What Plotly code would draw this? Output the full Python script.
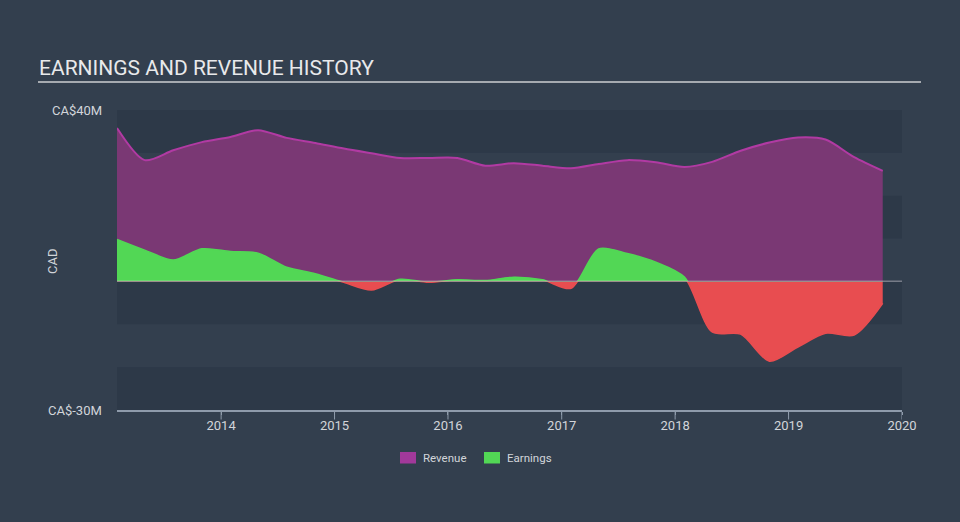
import plotly.graph_objects as go

dates = ["2013-01-31", "2013-04-30", "2013-07-31", "2013-10-31",
         "2014-01-31", "2014-04-30", "2014-07-31", "2014-10-31",
         "2015-01-31", "2015-04-30", "2015-07-31", "2015-10-31",
         "2016-01-31", "2016-04-30", "2016-07-31", "2016-10-31",
         "2017-01-31", "2017-04-30", "2017-07-31", "2017-10-31",
         "2018-01-31", "2018-04-30", "2018-07-31", "2018-10-31",
         "2019-01-31", "2019-04-30", "2019-07-31", "2019-10-31"]
revenue = [35.8, 28.3, 30.6, 32.5, 33.7, 35.3, 33.5, 32.3,
           31.0, 29.9, 28.8, 28.8, 28.8, 27.0, 27.6, 27.0,
           26.4, 27.4, 28.3, 27.8, 26.7, 27.9, 30.5, 32.4,
           33.6, 33.1, 29.0, 25.8]
earnings = [9.8, 7.3, 5.0, 7.6, 7.0, 6.6, 3.3, 1.8,
            -0.2, -2.0, 0.5, -0.2, 0.4, 0.2, 1.0, 0.4,
            -1.6, 7.6, 6.5, 4.5, 1.0, -11.8, -12.3, -18.6,
            -15.3, -12.1, -12.5, -5.1]
year_ticks = ["2014", "2015", "2016", "2017", "2018", "2019", "2020"]
legend_names = ["Revenue", "Earnings"]

BG = "#333f4e"
BAND = "#2d3948"
TXT = "#d2d5da"
AXIS = "#8f9bab"
PURPLE_FILL = "#7a3874"
PURPLE_LINE = "#b13aa3"
PURPLE_KEY = "#a2399a"
GREEN = "#52d755"
RED = "#e84d50"

L, R, T, B = 117, 58, 110, 112
PW = 960 - L - R
PH = 522 - T - B
def px_x(px):
    return (px - L) / PW
def px_y(py):
    return (522 - B - py) / PH

fig = go.Figure()

fig.add_trace(go.Scatter(x=dates, y=revenue, yaxis="y", mode="lines",
                         line=dict(color=PURPLE_LINE, width=2, shape="spline", smoothing=0.8),
                         fill="tozeroy", fillcolor=PURPLE_FILL, showlegend=False, hoverinfo="skip"))
fig.add_trace(go.Scatter(x=dates, y=earnings, yaxis="y", mode="lines",
                         line=dict(color=GREEN, width=1.5, shape="spline", smoothing=0.8),
                         fill="tozeroy", fillcolor=GREEN, showlegend=False, hoverinfo="skip"))
fig.add_trace(go.Scatter(x=dates, y=earnings, yaxis="y2", mode="lines",
                         line=dict(color=RED, width=1.5, shape="spline", smoothing=0.8),
                         fill="tozeroy", fillcolor=RED, showlegend=False, hoverinfo="skip"))

split = 30 / 70
shapes = []
for (y0, y1, ref) in [(30, 40, "y"), (10, 20, "y"), (-10, 0, "y2"), (-30, -20, "y2")]:
    shapes.append(dict(type="rect", xref="paper", yref=ref, x0=0, x1=1, y0=y0, y1=y1,
                       fillcolor=BAND, line=dict(width=0), layer="below"))
shapes.append(dict(type="line", xref="paper", yref="y", x0=0, x1=1, y0=0, y1=0,
                   line=dict(color="rgba(235,225,235,0.75)", width=1.5), layer="above"))
shapes.append(dict(type="line", xref="paper", yref="paper", x0=px_x(38), x1=px_x(921),
                   y0=px_y(82), y1=px_y(82), line=dict(color="#a6aab0", width=2)))
# x tick marks
for yr in year_ticks:
    shapes.append(dict(type="line", xref="x", yref="paper", x0=f"{yr}-01-01", x1=f"{yr}-01-01",
                       y0=0, y1=px_y(419.5), line=dict(color=AXIS, width=1)))

annotations = [
    dict(text="EARNINGS AND REVENUE HISTORY", xref="paper", yref="paper",
         x=px_x(37), y=px_y(68), xanchor="left", yanchor="middle", showarrow=False,
         font=dict(size=21, color="#e8e9eb", family="Roboto")),
    dict(text="CA$40M", xref="paper", yref="paper", x=px_x(104), y=1,
         xanchor="right", yanchor="middle", showarrow=False,
         font=dict(size=13, color=TXT, family="Roboto")),
    dict(text="CA$-30M", xref="paper", yref="paper", x=px_x(104), y=0,
         xanchor="right", yanchor="middle", showarrow=False,
         font=dict(size=13, color=TXT, family="Roboto")),
    dict(text="CAD", xref="paper", yref="paper", x=px_x(52), y=px_y(262),
         xanchor="center", yanchor="middle", showarrow=False, textangle=-90,
         font=dict(size=13, color=TXT, family="Roboto")),
]

# custom legend
legend_items = [(legend_names[0], PURPLE_KEY, 400, 421), (legend_names[1], GREEN, 484, 505)]
for name, col, sx, tx in legend_items:
    shapes.append(dict(type="rect", xref="paper", yref="paper",
                       x0=px_x(sx), x1=px_x(sx + 16), y0=px_y(452), y1=px_y(463.5),
                       fillcolor=col, line=dict(width=0)))
    annotations.append(dict(text=name, xref="paper", yref="paper", x=px_x(tx), y=px_y(458),
                            xanchor="left", yanchor="middle", showarrow=False,
                            font=dict(size=11.5, color=TXT, family="Roboto")))

fig.update_layout(
    width=960, height=522,
    margin=dict(l=L, r=R, t=T, b=B),
    paper_bgcolor=BG, plot_bgcolor=BG,
    font=dict(family="Roboto", color=TXT, size=12),
    shapes=shapes, annotations=annotations,
    showlegend=False,
    xaxis=dict(type="date", range=["2013-01-31", "2020-01-01"], anchor="y2",
               tickvals=[f"{y}-01-01" for y in year_ticks], ticktext=year_ticks,
               ticks="outside", ticklen=3, tickcolor=AXIS, tickwidth=1,
               showline=True, linecolor=AXIS, linewidth=1.5,
               showgrid=False, zeroline=False,
               tickfont=dict(size=13, color=TXT)),
    yaxis=dict(domain=[split, 1], range=[0, 40], showticklabels=False, showgrid=False,
               zeroline=False, ticks=""),
    yaxis2=dict(domain=[0, split], range=[-30, 0], showticklabels=False, showgrid=False,
                zeroline=False, ticks=""),
    hovermode=False,
)

fig.write_html("out.html")
